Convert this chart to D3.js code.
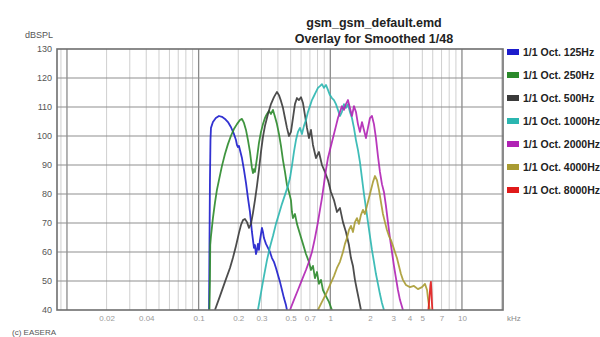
<!DOCTYPE html>
<html><head><meta charset="utf-8">
<script src="https://cdn.jsdelivr.net/npm/d3@7"></script>
<style>body{margin:0;background:#fff}svg{display:block}text{font-family:"Liberation Sans",Arial,sans-serif}</style>
</head><body>
<script>
// ---- data (frequency in kHz, level in dB SPL) ----
const titleLines = ["gsm_gsm_default.emd", "Overlay for Smoothed 1/48"];
const seriesNames = ["1/1 Oct. 125Hz","1/1 Oct. 250Hz","1/1 Oct. 500Hz","1/1 Oct. 1000Hz","1/1 Oct. 2000Hz","1/1 Oct. 4000Hz","1/1 Oct. 8000Hz"];
const seriesColors = ["#1c1ccc","#2b8a2b","#3a3a3a","#2bb6b0","#b022b4","#a99b32","#e01a1a"];
const yTickValues = [40,50,60,70,80,90,100,110,120,130];
const xTickValues = [0.02,0.04,0.1,0.2,0.3,0.5,0.7,1,2,3,4,5,7,10];
const xTickLabels = ["0.02","0.04","0.1","0.2","0.3","0.5","0.7","1","2","3","4","5","7","10"];

const oct125 = [[0.120,40],[0.1208,60.7],[0.1219,84.8],[0.1230,98.6],[0.1241,102.8],[0.1284,104.8],[0.1351,106.2],[0.1427,106.9],[0.1504,106.6],[0.1585,105.9],[0.167,104.8],[0.1758,103.1],[0.1854,100.7],[0.1921,98.6],[0.1955,96.9],[0.199,96.2],[0.2025,96.6],[0.206,95.2],[0.2133,92.4],[0.221,88.3],[0.2289,83.8],[0.237,78.6],[0.2454,73.8],[0.2498,70.3],[0.254,66.9],[0.2587,64.1],[0.2632,61.4],[0.2678,62.4],[0.2726,59.3],[0.2774,60.7],[0.2822,62.8],[0.2872,60.7],[0.2923,64.1],[0.2975,66.2],[0.3027,68.3],[0.3081,66.9],[0.3135,64.8],[0.3247,62.8],[0.3363,61.4],[0.3482,60.0],[0.3606,57.9],[0.3734,56.6],[0.3867,54.5],[0.4005,52.1],[0.4148,49.7],[0.4296,46.9],[0.4447,44.1],[0.4606,41.7],[0.4687,40]];
const oct250 = [[0.1208,40],[0.1219,50.4],[0.1225,62.4],[0.1241,65.5],[0.1284,71.7],[0.133,76.9],[0.1377,81.4],[0.1427,84.8],[0.1504,89.7],[0.1585,93.8],[0.167,97.2],[0.1758,100.0],[0.1854,102.4],[0.1955,104.1],[0.206,105.5],[0.2133,105.9],[0.221,104.5],[0.2289,102.1],[0.237,98.6],[0.2454,94.5],[0.2498,91.7],[0.254,89.0],[0.2587,87.2],[0.2632,88.6],[0.2678,87.6],[0.2774,92.4],[0.2872,97.6],[0.2975,101.4],[0.3081,104.1],[0.319,106.2],[0.3304,107.6],[0.3422,108.6],[0.3543,107.6],[0.3669,109.0],[0.38,106.6],[0.3935,104.1],[0.4075,100.7],[0.422,96.6],[0.437,91.7],[0.4527,87.6],[0.4687,83.1],[0.4854,80.7],[0.5026,77.9],[0.5115,73.8],[0.5205,71.7],[0.539,73.1],[0.5582,69.7],[0.5883,66.2],[0.62,62.8],[0.6534,59.3],[0.6886,56.6],[0.7131,53.8],[0.7385,55.2],[0.7646,51.0],[0.792,53.1],[0.8202,49.0],[0.8493,50.4],[0.8796,46.9],[0.927,44.8],[0.9769,42.8],[1.0294,40]];
const oct500 = [[0.133,40],[0.1452,44.8],[0.1585,49.7],[0.173,54.5],[0.182,57.9],[0.1921,62.1],[0.2025,66.6],[0.2097,69.3],[0.2172,71.0],[0.2248,71.4],[0.233,70.3],[0.2413,68.3],[0.2498,69.7],[0.2587,73.5],[0.2678,77.9],[0.2774,82.8],[0.2872,88.3],[0.2975,94.5],[0.3081,99.7],[0.319,103.5],[0.3363,107.6],[0.3543,111.0],[0.3734,113.4],[0.3935,115.2],[0.4075,114.1],[0.422,112.1],[0.437,109.7],[0.4527,106.2],[0.4687,102.8],[0.4854,100.0],[0.5026,101.4],[0.5205,106.2],[0.539,111.0],[0.5582,113.1],[0.5781,112.4],[0.5987,113.4],[0.62,111.4],[0.642,107.2],[0.6649,102.8],[0.6886,99.3],[0.7131,102.1],[0.7385,96.9],[0.7783,92.4],[0.8202,94.5],[0.8642,90.0],[0.9107,87.6],[0.9598,84.8],[1.0117,80.7],[1.0662,77.9],[1.1236,73.8],[1.1838,75.2],[1.2479,70.3],[1.3151,66.9],[1.3859,62.4],[1.4353,57.9],[1.4864,55.2],[1.539,50.4],[1.594,46.9],[1.6508,43.5],[1.7096,40]];
const oct1000 = [[0.2822,40],[0.2975,45.9],[0.3135,51.7],[0.3304,57.2],[0.3482,61.7],[0.3669,65.5],[0.3867,69.7],[0.4075,73.1],[0.4296,76.6],[0.4527,79.7],[0.4771,82.8],[0.4939,85.5],[0.5115,89.7],[0.5297,94.5],[0.5486,98.6],[0.568,101.4],[0.5883,102.8],[0.6093,100.7],[0.631,103.5],[0.6534,105.5],[0.6766,108.3],[0.7006,110.3],[0.7256,112.4],[0.7515,113.8],[0.7783,115.2],[0.8058,116.6],[0.8345,117.2],[0.8642,117.9],[0.8951,116.6],[0.927,117.6],[0.9598,115.9],[0.994,114.1],[1.0294,113.1],[1.0662,112.4],[1.1041,111.0],[1.1432,109.0],[1.1838,106.9],[1.226,108.3],[1.2699,111.0],[1.3151,109.7],[1.3616,111.0],[1.4101,108.3],[1.4603,106.2],[1.5126,102.8],[1.5664,98.6],[1.622,95.2],[1.68,91.0],[1.74,85.5],[1.8017,80.0],[1.8658,75.2],[1.932,70.3],[2.0011,65.5],[2.072,60.7],[2.146,56.6],[2.2224,52.4],[2.301,49.0],[2.383,45.5],[2.468,42.4],[2.556,40]];
const oct2000 = [[0.4939,40],[0.5297,43.5],[0.568,46.9],[0.6093,50.4],[0.6534,53.8],[0.6886,56.6],[0.7256,60.0],[0.7646,64.8],[0.8058,70.3],[0.8345,74.5],[0.8642,78.6],[0.8951,83.4],[0.927,88.3],[0.9598,92.4],[0.994,95.2],[1.0294,97.9],[1.0662,100.7],[1.1041,103.4],[1.1432,106.2],[1.1838,108.3],[1.226,110.3],[1.2699,109.0],[1.3151,111.0],[1.3616,112.4],[1.4101,109.7],[1.4603,106.9],[1.5126,110.3],[1.5664,108.3],[1.622,104.1],[1.68,101.4],[1.74,104.8],[1.8017,102.1],[1.8658,99.3],[1.932,102.8],[2.0011,106.2],[2.072,106.9],[2.146,104.1],[2.2224,99.3],[2.301,93.1],[2.383,87.6],[2.468,83.4],[2.556,80.7],[2.647,75.9],[2.741,70.3],[2.839,64.8],[2.94,60.0],[3.045,55.2],[3.153,51.0],[3.265,46.9],[3.381,43.5],[3.564,40]];
const oct4000 = [[0.8058,40],[0.8642,42.8],[0.927,45.5],[0.994,48.6],[1.0662,51.7],[1.1236,54.5],[1.1838,56.6],[1.2479,60.0],[1.292,62.8],[1.3383,64.8],[1.3859,67.6],[1.4353,69.0],[1.4864,66.9],[1.539,70.3],[1.594,71.7],[1.6508,69.7],[1.7096,72.8],[1.7704,74.5],[1.833,73.1],[1.8987,75.9],[1.9663,78.6],[2.0363,81.4],[2.1088,84.1],[2.184,86.2],[2.2616,84.8],[2.3421,81.4],[2.4255,77.2],[2.5118,73.1],[2.601,70.3],[2.694,67.6],[2.79,65.5],[2.889,64.1],[2.992,62.1],[3.097,60.0],[3.209,57.9],[3.323,55.2],[3.441,52.4],[3.564,50.4],[3.756,48.6],[4.027,47.9],[4.32,48.3],[4.632,47.2],[4.968,47.9],[5.236,49.0],[5.43,46.9],[5.517,44.1],[5.61,41.7],[5.714,40]];
const oct8000 = [[5.56,40],[5.66,44.1],[5.76,48.6],[5.81,49.7],[5.86,46.9],[5.91,42.8],[5.96,40]];
const seriesData = [oct125, oct250, oct500, oct1000, oct2000, oct4000, oct8000];

// ---- drawing ----
const W = 600, H = 337;
const svg = d3.select("body").append("svg").attr("width", W).attr("height", H);
const x = d3.scaleLog().domain([0.0084, 20.5]).range([57, 503]);
const y = d3.scaleLinear().domain([40, 130]).range([310, 49]);

// vertical grid
const gridV = [];
[0.001,0.01,0.1,1,10].forEach(d => { for (let k=1;k<=9;k++){ const v=k*d; if (v>x.domain()[0] && v<x.domain()[1]) gridV.push({v, major:k===1}); } });
svg.append("g").selectAll("line").data(gridV).join("line")
  .attr("x1", d=>x(d.v)).attr("x2", d=>x(d.v)).attr("y1", y(40)).attr("y2", y(130))
  .attr("stroke", d=>d.major?"#8a8a8a":"#cfcfcf").attr("stroke-width", d=>d.major?1.3:1);
// horizontal grid
svg.append("g").selectAll("line").data(yTickValues.slice(1,-1)).join("line")
  .attr("x1", 57).attr("x2", 503).attr("y1", d=>y(d)).attr("y2", d=>y(d))
  .attr("stroke", "#8f8f8f").attr("stroke-width", 1.2);

// curves
const line = d3.line().x(d=>x(d[0])).y(d=>y(d[1]));
svg.append("defs").append("clipPath").attr("id","clip").append("rect")
  .attr("x",57).attr("y",49).attr("width",446).attr("height",261);
const cg = svg.append("g").attr("clip-path","url(#clip)");
seriesData.forEach((s,i)=>{
  cg.append("path").datum(s).attr("d", line).attr("fill","none")
    .attr("stroke", seriesColors[i]).attr("stroke-width", 1.8).attr("stroke-linejoin","round").attr("opacity",0.9);
});

// frame
svg.append("rect").attr("x",57).attr("y",49).attr("width",446).attr("height",261)
  .attr("fill","none").attr("stroke","#6e6e6e").attr("stroke-width",1.6);

// axes
const yAxis = d3.axisLeft(y).tickValues(yTickValues).tickSize(0).tickPadding(5);
const gy = svg.append("g").attr("transform","translate(57,0)").call(yAxis);
gy.select(".domain").remove();
gy.selectAll("text").attr("font-size",9).attr("fill","#555");

const xAxis = d3.axisBottom(x).tickValues(xTickValues).tickSize(0).tickPadding(5)
  .tickFormat((d,i)=>xTickLabels[i]);
const gx = svg.append("g").attr("transform","translate(0,310)").call(xAxis);
gx.select(".domain").remove();
gx.selectAll("text").attr("font-size",8).attr("fill","#9a9a9a");

svg.append("text").attr("x",25).attr("y",38).attr("font-size",9).attr("fill","#555").text("dBSPL");
svg.append("text").attr("x",507).attr("y",321).attr("font-size",8).attr("fill","#888").text("kHz");
svg.append("text").attr("x",12).attr("y",335).attr("font-size",8).attr("fill","#555").text("(c) EASERA");

// title
svg.append("g").selectAll("text").data(titleLines).join("text")
  .attr("x",374).attr("y",(d,i)=>27+i*16).attr("text-anchor","middle")
  .attr("font-size",12.5).attr("font-weight","bold").attr("fill","#222").text(d=>d);

// legend
const lg = svg.append("g").selectAll("g").data(seriesNames).join("g")
  .attr("transform",(d,i)=>`translate(507,${52+i*23})`);
lg.append("rect").attr("x",0).attr("y",-3).attr("width",12).attr("height",6).attr("fill",(d,i)=>seriesColors[i]);
lg.append("text").attr("x",16).attr("y",4).attr("font-size",10.5).attr("font-weight","bold").attr("fill","#222").text(d=>d);
</script>
</body></html>
